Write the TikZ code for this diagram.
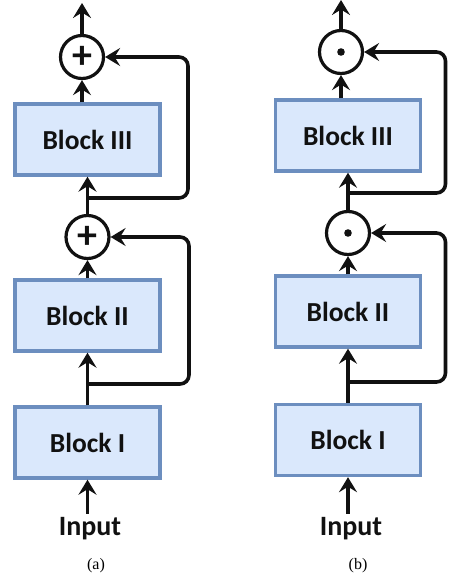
\documentclass[tikz,border=0pt]{standalone}
\usepackage{fontspec}
\setmainfont{Liberation Serif}
\newfontfamily\blockfont{Carlito}
\usetikzlibrary{arrows.meta}
\definecolor{blkborder}{HTML}{6C8EBF}
\definecolor{blkfill}{HTML}{DAE8FC}
\definecolor{ink}{HTML}{111111}
\begin{document}
\begin{tikzpicture}[x=1pt,y=-1pt,
  blk/.style={draw=blkborder, fill=blkfill, line width=3.4pt, minimum width=145pt, minimum height=71pt, inner sep=0pt, text=ink, font=\blockfont\bfseries\fontsize{27.5}{30}\selectfont},
  op/.style={draw=ink, circle, line width=3.2pt, minimum size=43pt, inner sep=0pt, text=ink, font=\blockfont\bfseries\fontsize{40}{42}\selectfont},
  arr/.style={draw=ink, line width=3.6pt, -{Stealth[length=15pt,width=18pt,inset=5.5pt]}},
  fb/.style={arr, rounded corners=9pt},
  lbl/.style={text=ink, font=\blockfont\bfseries\fontsize{28}{30}\selectfont, anchor=base, inner sep=3pt},
  capt/.style={font=\fontsize{16}{18}\selectfont, anchor=base}]
\useasboundingbox (0,0) rectangle (448,575);
% ---------------- panel (a)
\node[op] (a3) at (82,57) {+};
\coordinate (a-out) at (82,3);
\draw[arr] (a3) -- (a-out);
\node[blk] (a-b3) at (87.5,139.5) {Block III};
\draw[arr] (a-b3.north -| a3) -- (a3);
\node[op] (a2) at (87.5,237) {+};
\draw[arr] (a2) -- (a-b3.south);
\coordinate (a-j3) at (87.5,198);
\coordinate (a-r3) at (188,198);
\draw[fb] (a-j3) -- (a-r3) |- (a3.east);
\node[blk] (a-b2) at (87.5,315.5) {Block II};
\draw[arr] (a-b2.north) -- (a2);
\node[blk] (a-b1) at (87.5,442.5) {Block I};
\draw[arr] (a-b1.north) -- (a-b2.south);
\coordinate (a-j2) at (87.5,384);
\coordinate (a-r2) at (189,384);
\draw[fb] (a-j2) -- (a-r2) |- (a2.east);
\node[lbl] (a-in) at (90,535) {Input};
\draw[arr] (a-in.north -| a-b1.south) -- (a-b1.south);
\node[capt] (a-cap) at (96,569) {(a)};
% ---------------- panel (b)
\node[op] (b3) at (341,52) {};
\fill[ink] (b3.center) circle (3.8);
\coordinate (b-out) at (341,0);
\draw[arr] (b3) -- (b-out);
\node[blk] (b-b3) at (348,135.5) {Block III};
\draw[arr] (b-b3.north -| b3) -- (b3);
\node[op] (b2) at (348,233) {};
\fill[ink] (b2.center) circle (3.8);
\draw[arr] (b2) -- (b-b3.south);
\coordinate (b-j3) at (348,193);
\coordinate (b-r3) at (445.5,193);
\draw[fb] (b-j3) -- (b-r3) |- (b3.east);
\node[blk] (b-b2) at (348,311.5) {Block II};
\draw[arr] (b-b2.north) -- (b2);
\node[blk] (b-b1) at (348,440) {Block I};
\draw[arr] (b-b1.north) -- (b-b2.south);
\coordinate (b-j2) at (348,382);
\coordinate (b-r2) at (445.5,382);
\draw[fb] (b-j2) -- (b-r2) |- (b2.east);
\node[lbl] (b-in) at (351,535) {Input};
\draw[arr] (b-in.north -| b-b1.south) -- (b-b1.south);
\node[capt] (b-cap) at (358,569) {(b)};
\end{tikzpicture}
\end{document}
